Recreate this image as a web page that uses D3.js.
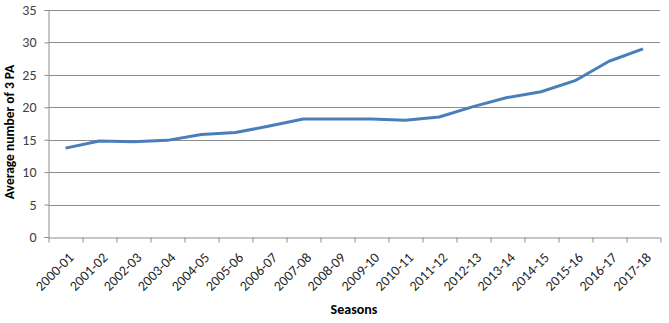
<!DOCTYPE html>
<html>
<head>
<meta charset="utf-8">
<script src="https://cdn.jsdelivr.net/npm/d3@7"></script>
<style>
  body { margin: 0; background: #fff; }
  text { font-family: Carlito, Calibri, "Open Sans", sans-serif; }
</style>
</head>
<body>
<div id="containerDiv"></div>
<script>
// seasons on the x axis
const seasons = ["2000-01", "2001-02", "2002-03", "2003-04", "2004-05", "2005-06",
  "2006-07", "2007-08", "2008-09", "2009-10", "2010-11", "2011-12", "2012-13",
  "2013-14", "2014-15", "2015-16", "2016-17", "2017-18"];
// average number of 3 point attempts per season
const avg3PA = [13.7, 14.8, 14.7, 14.9, 15.8, 16.1, 17.1, 18.2, 18.2, 18.2,
  18.0, 18.5, 20.1, 21.5, 22.4, 24.1, 27.1, 29.0];
// y tick values
const yTicks = [0, 5, 10, 15, 20, 25, 30, 35];

const W = 669, H = 323;
const margin = { top: 10, right: 9, bottom: 86, left: 48.5 };
const w = W - margin.left - margin.right,
  h = H - margin.top - margin.bottom;

let svg = d3.select("#containerDiv")
  .append("svg")
  .attr("width", W)
  .attr("height", H);
let g = svg.append("g")
  .attr("transform", "translate(" + margin.left + "," + margin.top + ")");

let xScale = d3.scaleBand().domain(seasons).range([0, w]);
let yScale = d3.scaleLinear().domain([0, 35]).range([h, 0]);

// gridlines
g.selectAll(".grid")
  .data(yTicks.filter((d) => d > 0))
  .enter()
  .append("line")
  .attr("x1", 0)
  .attr("x2", w)
  .attr("y1", (d) => Math.round(yScale(d)) + 0.5)
  .attr("y2", (d) => Math.round(yScale(d)) + 0.5)
  .attr("stroke", "#8c8c8c")
  .attr("stroke-width", 1);

// y axis
let yAxis = d3.axisLeft(yScale).tickValues(yTicks).tickSize(4).tickPadding(8);
let gY = g.append("g").call(yAxis);
gY.select(".domain").attr("stroke", "#8c8c8c");
gY.selectAll(".tick line").attr("stroke", "#8c8c8c");
gY.selectAll(".tick text")
  .attr("fill", "#404040")
  .style("font-size", "14px");

// x axis
let xAxis = d3.axisBottom(xScale).tickSize(0).tickSizeOuter(0).tickPadding(0);
let gX = g.append("g")
  .attr("transform", "translate(0," + (Math.round(h) + 0.5) + ")")
  .call(xAxis);
gX.select(".domain").attr("stroke", "#8c8c8c");
// tick marks between categories
gX.selectAll(".sep")
  .data(d3.range(seasons.length + 1))
  .enter()
  .append("line")
  .attr("x1", (i) => Math.round(i * xScale.step()) + 0.5)
  .attr("x2", (i) => Math.round(i * xScale.step()) + 0.5)
  .attr("y1", 0)
  .attr("y2", 5)
  .attr("stroke", "#8c8c8c");
gX.selectAll(".tick text")
  .attr("fill", "#262626")
  .style("font-size", "14px")
  .attr("text-anchor", "end")
  .attr("y", 0)
  .attr("dy", "0")
  .attr("transform", "translate(9,21) rotate(-45)");

// line
let line = d3.line()
  .x((d, i) => xScale(seasons[i]) + xScale.bandwidth() / 2)
  .y((d) => yScale(d));
g.append("path")
  .datum(avg3PA)
  .attr("d", line)
  .attr("fill", "none")
  .attr("stroke", "#4a7ebb")
  .attr("stroke-width", 3)
  .attr("stroke-linejoin", "round");

// axis titles
svg.append("text")
  .attr("transform", "translate(14,132) rotate(-90)")
  .attr("text-anchor", "middle")
  .style("font-size", "13.5px")
  .style("font-weight", "bold")
  .attr("fill", "#000")
  .text("Average number of 3 PA");
svg.append("text")
  .attr("x", 354)
  .attr("y", 314)
  .attr("text-anchor", "middle")
  .style("font-size", "14px")
  .style("font-weight", "bold")
  .attr("fill", "#000")
  .text("Seasons");
</script>
</body>
</html>
